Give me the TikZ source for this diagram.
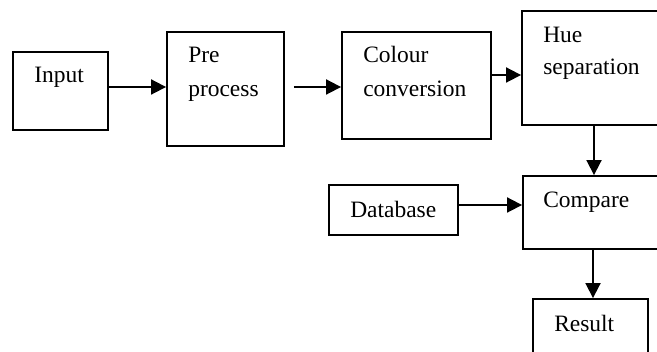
\documentclass[tikz,border=0pt]{standalone}
\usepackage{fontspec}
\setmainfont{Liberation Serif}
\usetikzlibrary{arrows.meta}
\begin{document}
\begin{tikzpicture}[x=0.75pt,y=-0.75pt,
  box/.style={draw=black,line width=1.4pt,inner sep=0pt,fill=none},
  lbl/.style={anchor=base west,inner sep=0pt,align=left,
    font=\fontsize{17.6}{25.5}\selectfont},
  arr/.style={line width=1.4pt,-{Triangle[length=11.25pt,width=11.25pt]}}]
\useasboundingbox (0,0) rectangle (657,352);
\clip (0,0) rectangle (657,352);
% blocks, placed by their centres
\node[box,minimum width=95*0.75pt,minimum height=78*0.75pt] (input) at (60.5,91) {};
\node[box,minimum width=117*0.75pt,minimum height=114*0.75pt] (pre) at (225.5,89) {};
\node[box,minimum width=149*0.75pt,minimum height=107*0.75pt] (colour) at (416.5,85.5) {};
\node[box,minimum width=178*0.75pt,minimum height=114*0.75pt] (hue) at (611,68) {};
\node[box,minimum width=129*0.75pt,minimum height=50*0.75pt] (db) at (393.5,210) {};
\node[box,minimum width=177*0.75pt,minimum height=73*0.75pt] (cmp) at (611.5,212.5) {};
\node[box,minimum width=115*0.75pt,minimum height=101*0.75pt] (res) at (590.5,349.5) {};
% labels (base anchor = baseline of the last line)
\node[lbl] (tin) at (34,83) {Input};
\node[lbl] (tpre) at (188,97) {Pre\\process};
\node[lbl] (tcol) at (363,97) {Colour\\conversion};
\node[lbl,font=\fontsize{17.6}{24}\selectfont] (thue) at (543,75) {Hue\\separation};
\node[lbl] (tdb) at (350,218) {Database};
\node[lbl] (tcmp) at (543,208) {Compare};
\node[lbl] (tres) at (554,332) {Result};
% connectors
\draw[arr] (input.east |- 0,87) -- (pre.west |- 0,87);
\draw[arr] ([xshift=9*0.75pt]pre.east |- 0,87) -- (colour.west |- 0,87);
\draw[arr] (colour.east |- 0,75) -- (hue.west |- 0,75);
\draw[arr] (hue.south -| 594,0) -- (cmp.north -| 594,0);
\draw[arr] (db.east |- 0,205) -- (cmp.west |- 0,205);
\draw[arr] (cmp.south -| 593,0) -- (res.north -| 593,0);
\end{tikzpicture}
\end{document}
